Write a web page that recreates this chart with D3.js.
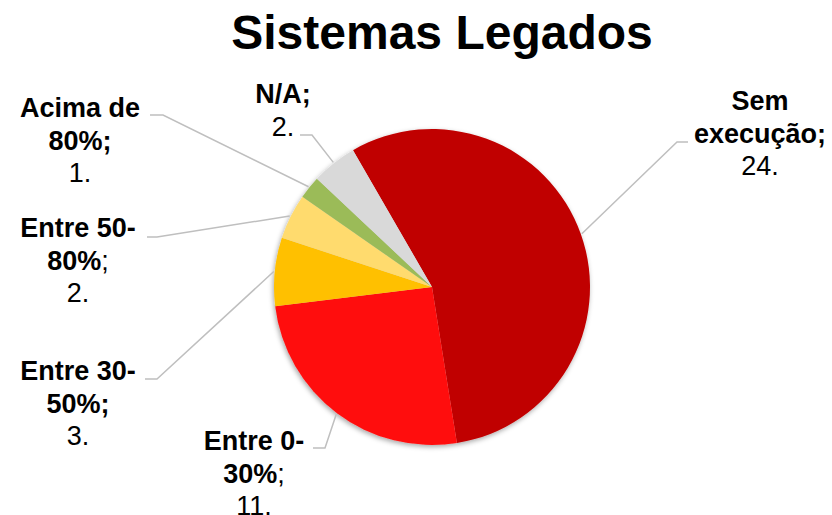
<!DOCTYPE html>
<html>
<head>
<meta charset="utf-8">
<script src="https://cdn.jsdelivr.net/npm/d3@7"></script>
<style>
  body { margin: 0; background: #fff; }
  text { font-family: "Liberation Sans", Arial, sans-serif; fill: #000; }
</style>
</head>
<body>
<script>
const width = 832, height = 515;

// data
const categories = ["Sem execução", "Entre 0-30%", "Entre 30-50%", "Entre 50-80%", "Acima de 80%", "N/A"];
const values = [24, 11, 3, 2, 1, 2];
const colors = ["#C00000", "#FF0D0D", "#FFC000", "#FFDB6E", "#9BBB59", "#D9D9D9"];

// label lines: [bold part, plain part], number line added after
const labelLines = [
  [["Sem", ""], ["execução;", ""]],
  [["Entre 0-", ""], ["30%", ";"]],
  [["Entre 30-", ""], ["50%;", ""]],
  [["Entre 50-", ""], ["80%", ";"]],
  [["Acima de", ""], ["80%;", ""]],
  [["N/A;", ""]]
];

// layout for labels (center x, first baseline) and leader elbow
const labelPos = [
  {x: 760, y: 110, ex: 688, ey: 142, kx: 677},
  {x: 254, y: 450, ex: 313, ey: 448, kx: 325},
  {x: 78,  y: 380, ex: 145, ey: 379, kx: 157},
  {x: 78,  y: 237, ex: 147, ey: 237, kx: 157},
  {x: 80,  y: 117, ex: 150, ey: 115, kx: 163},
  {x: 283, y: 103, ex: 300, ey: 135, kx: 312}
];

const cx = 432, cy = 287, r = 158;
const start = -30 * Math.PI / 180;

const svg = d3.select("body").append("svg")
    .attr("width", width)
    .attr("height", height);

const defs = svg.append("defs");
const f = defs.append("filter").attr("id", "shadow")
    .attr("x", "-20%").attr("y", "-20%").attr("width", "140%").attr("height", "140%");
f.append("feDropShadow")
    .attr("dx", -1).attr("dy", 2).attr("stdDeviation", 2.5)
    .attr("flood-color", "#000").attr("flood-opacity", 0.35);

svg.append("text")
    .attr("x", 442)
    .attr("y", 49)
    .attr("text-anchor", "middle")
    .style("font-size", "48px")
    .style("font-weight", "bold")
    .text("Sistemas Legados");

const pie = d3.pie().sort(null).startAngle(start).endAngle(start + 2 * Math.PI);
const arcs = pie(values);
const arc = d3.arc().innerRadius(0).outerRadius(r);

const g = svg.append("g").attr("transform", `translate(${cx},${cy})`);

g.append("g").attr("filter", "url(#shadow)")
  .selectAll("path")
  .data(arcs)
  .join("path")
    .attr("d", arc)
    .attr("fill", (d, i) => colors[i]);

// leader lines
svg.append("g")
  .selectAll("polyline")
  .data(arcs)
  .join("polyline")
    .attr("fill", "none")
    .attr("stroke", "#BFBFBF")
    .attr("stroke-width", 1.5)
    .attr("points", (d, i) => {
      const a = (d.startAngle + d.endAngle) / 2;
      const px = cx + Math.sin(a) * (r + 1);
      const py = cy - Math.cos(a) * (r + 1);
      const p = labelPos[i];
      return [[p.ex, p.ey], [p.kx, p.ey], [px, py]].map(q => q.join(",")).join(" ");
    });

// labels
const lineH = 32.5;
categories.forEach((c, i) => {
  const p = labelPos[i];
  const t = svg.append("text")
      .attr("text-anchor", "middle")
      .style("font-size", "27px");
  const lines = labelLines[i];
  lines.forEach((ln, j) => {
    t.append("tspan")
        .attr("x", p.x)
        .attr("y", p.y + j * lineH)
        .style("font-weight", "bold")
        .text(ln[0]);
    if (ln[1]) {
      t.append("tspan").style("font-weight", "normal").text(ln[1]);
    }
  });
  t.append("tspan")
      .attr("x", p.x)
      .attr("y", p.y + lines.length * lineH)
      .style("font-weight", "normal")
      .text(values[i] + ".");
});
</script>
</body>
</html>
